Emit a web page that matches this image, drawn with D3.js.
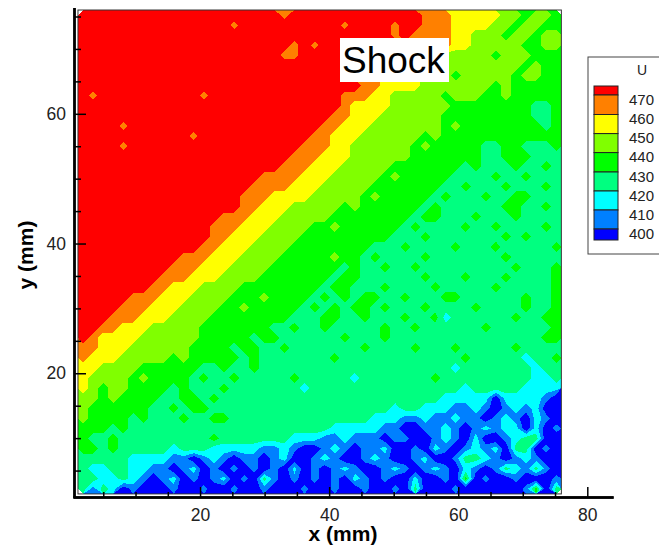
<!DOCTYPE html>
<html>
<head>
<meta charset="utf-8">
<script src="https://d3js.org/d3.v7.min.js"></script>
<style>
  body { margin: 0; background: #fff; }
  text { font-family: "Liberation Sans", Arial, sans-serif; }
</style>
</head>
<body>
<div id="chart"></div>
<script>
// contour levels and legend
const levels = [470, 460, 450, 440, 430, 420, 410, 400];
const bandColors = ["#ff0000", "#ff8000", "#ffff00", "#80ff00", "#00ff00", "#00ff80", "#00ffff", "#0080ff", "#0000ff"];
const xTicks = [20, 40, 60, 80];
const yTicks = [20, 40, 60];
const minorTicksX = [5, 10, 15, 25, 30, 35, 45, 50, 55, 65, 70, 75];
const minorTicksY = [5, 10, 15, 25, 30, 35, 45, 50, 55, 65, 70, 75];

// U, 48 x 48 cells, top row first
const uRows = [
[478,478,478,478,478,478,478,478, 478,478,478,478,478,478,478,478, 478,478,478,478,465,478,478,478, 478,478,478,478,478,478,478,478, 478,478,465,465,465,455,455,455, 455,455,445,445,435,445,445,435],
[478,478,478,478,478,478,478,478, 478,478,478,478,478,478,478,465, 478,478,478,478,478,478,478,478, 478,478,465,478,478,478,478,465, 478,478,465,465,465,455,455,455, 455,445,445,435,445,445,435,435],
[478,478,478,478,478,478,478,478, 478,478,478,478,478,478,478,478, 478,478,478,478,478,478,478,478, 478,478,478,478,478,478,478,465, 478,465,465,465,465,455,455,445, 445,445,435,445,445,435,445,445],
[478,478,478,478,478,478,478,478, 478,478,478,478,478,478,478,478, 478,478,478,478,478,465,478,465, 478,478,478,478,478,478,478,478, 465,465,465,465,465,455,455,445, 445,445,445,445,435,435,445,445],
[478,478,478,478,478,478,478,478, 478,478,478,478,478,478,478,478, 478,478,478,478,465,465,478,478, 478,478,478,478,478,478,478,478, 465,465,465,465,445,445,445,445, 445,435,445,445,445,435,435,435],
[478,478,478,478,478,478,478,478, 478,478,478,478,478,478,478,478, 478,478,478,478,478,478,478,478, 478,478,478,478,465,465,465,465, 455,455,445,445,445,445,445,445, 445,445,445,445,435,445,435,435],
[478,478,478,478,478,478,478,478, 478,478,478,478,478,478,478,478, 478,478,478,478,478,478,478,478, 478,478,478,465,465,465,455,455, 455,455,445,445,445,435,445,445, 445,445,445,435,445,445,435,435],
[478,478,478,478,478,478,478,478, 478,478,478,478,478,478,478,478, 478,478,478,478,478,478,478,478, 478,478,478,478,465,465,455,455, 455,455,445,445,445,445,445,445, 445,435,445,435,435,435,435,435],
[478,465,478,478,478,478,478,478, 478,478,478,478,465,478,478,478, 478,478,478,478,478,478,478,478, 478,478,465,465,465,455,455,445, 445,445,445,445,435,445,445,445, 435,435,445,435,435,435,435,435],
[478,478,478,478,478,478,478,478, 478,478,478,478,478,478,478,478, 478,478,478,478,478,478,478,478, 478,478,465,455,455,455,455,445, 445,445,445,445,445,435,435,435, 435,435,435,435,435,425,425,435],
[478,478,478,478,478,478,478,478, 478,478,478,478,478,478,478,478, 478,478,478,478,478,478,478,478, 478,465,465,455,455,455,445,445, 445,445,445,445,435,435,435,435, 435,435,435,435,435,425,425,435],
[478,478,478,478,465,478,478,478, 478,478,478,478,478,478,478,478, 478,478,478,478,478,478,478,478, 465,465,455,455,455,445,445,445, 445,445,445,445,435,445,435,435, 435,435,435,435,435,435,425,435],
[478,478,478,478,478,478,478,478, 478,478,478,465,478,478,478,478, 478,478,478,478,478,478,478,465, 465,455,455,455,445,445,445,445, 445,445,435,445,435,435,435,435, 435,435,435,435,435,435,435,435],
[478,478,478,478,465,478,478,478, 478,478,478,478,478,478,478,478, 478,478,478,478,478,478,465,465, 465,455,455,445,445,445,445,445, 445,435,445,435,435,435,435,435, 425,425,435,435,425,425,425,435],
[478,478,478,478,478,478,478,478, 478,478,478,478,478,478,478,478, 478,478,478,478,478,465,465,465, 455,455,455,445,445,445,445,445, 445,435,435,435,435,435,435,435, 425,425,435,435,435,425,425,425],
[478,478,478,478,478,478,478,478, 478,478,478,478,478,478,478,478, 478,478,478,478,465,465,465,455, 455,455,445,445,445,445,445,435, 435,435,435,435,435,435,425,435, 425,425,425,435,425,425,435,425],
[478,478,478,478,478,478,478,478, 478,478,478,478,478,478,478,478, 478,478,465,465,465,465,455,455, 455,445,445,445,445,445,435,445, 435,435,435,435,435,425,425,425, 425,435,425,425,435,425,425,425],
[478,478,478,478,478,478,478,478, 478,478,478,478,478,478,478,478, 478,465,465,465,465,455,455,455, 445,445,445,445,445,435,435,435, 435,435,435,435,425,425,435,425, 425,425,435,425,425,425,435,425],
[478,478,478,478,478,478,478,478, 478,478,478,478,478,478,478,478, 465,465,465,455,455,455,455,445, 445,445,445,445,435,445,435,435, 435,435,435,425,435,425,425,425, 435,425,425,435,435,425,425,425],
[478,478,478,478,478,478,478,478, 478,478,478,478,478,478,478,478, 465,465,455,455,455,445,445,445, 445,445,435,445,435,435,435,435, 435,435,425,435,425,425,425,425, 425,425,435,435,425,425,435,425],
[478,478,478,478,478,478,478,478, 478,478,478,478,478,478,465,465, 465,455,455,455,445,445,445,445, 445,435,435,435,435,435,435,435, 435,425,435,435,425,425,425,435, 425,425,425,435,425,425,425,425],
[478,478,478,478,478,478,478,478, 478,478,478,478,478,465,465,465, 455,455,455,445,445,445,445,435, 435,445,435,435,435,435,435,435, 425,435,425,425,425,425,435,425, 425,435,425,425,425,425,435,425],
[478,478,478,478,478,478,478,478, 478,478,478,478,478,465,465,455, 455,455,445,445,445,445,435,435, 435,435,435,435,435,435,435,425, 425,425,435,425,425,425,425,425, 425,425,435,425,435,425,425,425],
[478,478,478,478,478,478,478,478, 478,478,478,478,465,465,455,455, 455,445,445,445,445,435,435,435, 435,435,435,435,435,425,425,425, 435,425,425,425,425,435,425,425, 425,435,425,425,425,425,425,435],
[478,478,478,478,478,478,478,478, 478,478,465,465,465,455,455,455, 445,445,445,445,435,435,435,435, 435,445,435,435,425,435,425,425, 425,425,435,425,425,425,425,425, 425,425,435,425,425,425,425,425],
[478,478,478,478,478,478,478,478, 478,465,465,465,455,455,455,445, 445,445,445,435,435,435,435,435, 435,435,425,435,425,425,435,425, 425,435,425,425,425,425,425,425, 425,425,425,435,425,425,425,435],
[478,478,478,478,478,478,478,478, 465,465,465,455,455,455,445,445, 445,445,435,435,435,435,435,435, 435,425,435,435,425,425,425,425, 425,425,435,425,425,425,435,425, 425,425,435,425,425,425,425,435],
[478,478,478,478,478,478,478,465, 465,455,455,455,445,445,445,445, 435,435,435,435,435,435,435,435, 425,435,435,425,425,425,435,425, 425,425,425,435,425,425,425,425, 425,435,425,425,425,425,425,435],
[478,478,478,478,478,465,465,465, 455,455,455,445,445,445,445,435, 435,435,445,435,435,435,435,425, 435,425,435,425,435,435,425,425, 435,425,425,425,435,435,425,425, 425,425,425,425,435,425,425,435],
[478,478,478,478,465,465,465,455, 455,455,445,445,445,445,435,435, 445,435,435,435,435,435,425,435, 425,435,425,435,435,425,435,425, 425,425,435,425,425,425,425,435, 425,425,425,425,435,425,425,435],
[478,478,478,465,465,465,455,455, 455,445,445,445,445,435,435,435, 435,435,435,435,435,425,425,425, 435,435,425,425,435,425,425,425, 435,425,425,435,415,425,425,425, 425,425,425,435,425,425,435,435],
[478,478,465,465,455,455,455,445, 445,445,445,445,435,435,435,435, 435,435,435,425,425,435,425,425, 435,425,425,425,425,425,435,425, 425,435,425,425,425,425,425,425, 435,425,425,425,425,425,425,435],
[478,465,455,455,455,455,445,445, 445,445,445,445,435,435,435,435, 435,425,435,435,425,425,425,425, 425,425,435,425,425,425,435,425, 425,425,425,425,425,425,425,425, 425,425,425,425,425,425,435,435],
[465,465,455,455,455,445,445,445, 445,445,445,435,435,435,435,425, 435,435,425,425,435,425,425,425, 425,425,425,425,435,425,425,425, 425,435,425,425,425,435,425,425, 425,425,425,435,425,425,425,425],
[465,455,455,455,445,445,445,445, 445,435,445,435,435,435,435,435, 425,435,425,425,425,425,425,425, 425,435,425,425,425,425,425,425, 425,425,425,425,425,425,435,425, 425,425,425,425,415,425,425,435],
[455,455,445,445,445,445,435,435, 435,435,435,435,425,425,435,425, 425,435,425,425,425,425,425,425, 425,425,425,425,425,425,425,425, 425,425,425,425,425,415,425,425, 425,425,425,425,425,415,425,425],
[455,445,445,445,445,435,445,435, 435,435,435,425,435,425,425,435, 425,425,425,425,425,435,425,425, 425,425,425,415,425,425,425,425, 425,425,425,435,425,425,425,425, 425,425,425,425,425,415,415,425],
[455,445,435,445,445,435,435,435, 435,425,435,425,425,425,435,425, 425,425,425,425,425,425,415,425, 425,425,425,425,425,425,425,425, 425,425,425,425,425,425,415,425, 425,425,425,425,415,415,415,415],
[445,445,435,445,435,435,435,435, 425,425,435,435,425,435,425,425, 425,425,425,425,425,425,425,425, 425,425,425,425,425,425,425,425, 425,425,425,425,415,415,415,415, 415,392,415,415,415,415,405,392],
[445,435,435,435,435,435,435,425, 425,435,425,435,435,425,425,425, 425,425,425,425,425,425,425,425, 425,425,425,425,425,425,425,415, 425,425,415,415,415,405,405,415, 405,392,405,415,405,415,392,392],
[445,435,435,435,435,425,435,425, 425,425,435,425,425,435,435,425, 425,425,425,425,425,425,425,425, 425,425,425,425,425,415,415,415, 405,405,415,405,405,415,405,405, 392,405,415,405,392,415,405,392],
[435,435,435,425,435,425,425,425, 425,425,425,425,425,425,425,425, 425,425,425,425,425,425,425,425, 425,415,415,415,415,415,405,405, 392,392,405,405,415,405,392,405, 415,405,415,415,392,415,392,405],
[435,425,425,435,425,425,425,425, 425,425,425,425,425,435,425,425, 425,425,425,425,425,415,415,415, 405,405,415,405,405,405,392,405, 405,392,392,405,415,405,392,415, 392,392,405,415,425,425,392,392],
[435,435,425,435,425,425,425,425, 425,415,425,425,425,415,415,415, 415,415,405,405,415,405,392,392, 405,415,405,392,405,405,415,392, 392,405,392,415,405,392,405,415, 405,415,392,425,425,392,405,392],
[425,425,425,425,425,415,415,415, 415,405,405,392,405,415,405,392, 405,405,392,405,415,392,392,405, 415,405,392,392,405,415,405,392, 392,405,415,392,392,405,425,425, 415,405,392,405,415,405,392,392],
[425,415,415,425,425,415,415,405, 405,392,405,415,392,405,392,405, 392,405,392,405,392,415,392,405, 392,405,415,405,392,392,405,415, 405,392,405,415,405,392,415,405, 392,405,425,415,405,425,405,392],
[425,425,415,415,425,415,405,392, 405,415,392,405,392,405,415,392, 405,392,425,405,392,405,392,405, 392,405,392,415,405,392,405,392, 392,415,392,392,405,392,435,392, 405,392,392,405,392,392,392,405],
[425,405,425,415,392,405,392,392, 392,405,392,392,405,392,392,405, 392,392,405,392,392,392,405,392, 392,405,392,392,405,392,392,405, 392,425,392,392,392,405,392,392, 392,392,392,392,405,435,392,425]
];

// pixel scales
const x = d3.scaleLinear().domain([0, 80]).range([71, 587.3]);
const y = d3.scaleLinear().domain([0, 75]).range([503, 16.5]);

const nRows = uRows.length;
const nCols = uRows[0].length;
const values = uRows.flat();

// the grid covers this part of the axes
const gridX = d3.scaleLinear().domain([0, nCols]).range([x(1.08), x(75.98)]);
const gridY = d3.scaleLinear().domain([0, nRows]).range([y(76.0), y(1.4)]);

const svg = d3.select("#chart")
    .append("svg")
    .attr("width", 659)
    .attr("height", 553);

// filled contours, lowest band first, each painted over the last
const bandFloors = [0].concat(levels.slice().reverse());
const contours = d3.contours()
    .size([nCols, nRows])
    .thresholds(bandFloors)(values);

const path = d3.geoPath(d3.geoTransform({
    point: function(px, py) { this.stream.point(gridX(px), gridY(py)); }
}));

svg.append("g")
    .selectAll("path")
    .data(contours)
    .enter()
    .append("path")
    .attr("d", path)
    .attr("fill", (d, i) => bandColors[bandColors.length - 1 - i])
    .attr("shape-rendering", "crispEdges");

// frame round the contour area
svg.append("rect")
    .attr("x", x(1.08))
    .attr("y", y(76.0))
    .attr("width", x(75.98) - x(1.08))
    .attr("height", y(1.4) - y(76.0))
    .attr("fill", "none")
    .attr("stroke", "#333")
    .attr("stroke-width", 1);

// X axis, ticks point up into the plot
const axisX = d3.scaleLinear().domain([0.3, 84]).range([x(0.3), x(84)]);
const gx = svg.append("g")
    .attr("transform", "translate(0,497)")
    .call(d3.axisBottom(axisX).tickValues(xTicks).tickSize(-10).tickSizeOuter(0).tickPadding(12));
svg.append("g")
    .attr("transform", "translate(0,497)")
    .call(d3.axisBottom(axisX).tickValues(minorTicksX).tickSize(-5).tickSizeOuter(0).tickFormat(""));

// Y axis, ticks point right into the plot
const axisY = d3.scaleLinear().domain([0.9, 76.4]).range([y(0.9), y(76.4)]);
const gy = svg.append("g")
    .attr("transform", "translate(74,0)")
    .call(d3.axisLeft(axisY).tickValues(yTicks).tickSize(-12).tickSizeOuter(0).tickPadding(8));
svg.append("g")
    .attr("transform", "translate(74,0)")
    .call(d3.axisLeft(axisY).tickValues(minorTicksY).tickSize(-7).tickSizeOuter(0).tickFormat(""));

svg.selectAll(".domain").attr("stroke", "#000").attr("stroke-width", 2.4);
svg.selectAll(".tick line").attr("stroke", "#000").attr("stroke-width", 1.5);
svg.selectAll(".tick text")
    .attr("font-family", null)
    .style("font-size", "17.5px")
    .style("fill", "#222");

// axis titles
svg.append("text")
    .text("x (mm)")
    .attr("x", 343)
    .attr("y", 541)
    .attr("text-anchor", "middle")
    .attr("font-weight", "bold")
    .attr("font-size", 21);

svg.append("text")
    .text("y (mm)")
    .attr("transform", "translate(33,255) rotate(-90)")
    .attr("text-anchor", "middle")
    .attr("font-weight", "bold")
    .attr("font-size", 21);

// Shock label
svg.append("rect")
    .attr("x", 340)
    .attr("y", 38)
    .attr("width", 109)
    .attr("height", 44)
    .attr("fill", "#fff");
svg.append("text")
    .text("Shock")
    .attr("x", 342)
    .attr("y", 73)
    .attr("font-size", 37)
    .attr("fill", "#000");

// legend
const legendStops = [86, 95, 114.5, 133.6, 152.6, 172, 191, 210, 229, 240];
const legend = svg.append("g");
legend.append("rect")
    .attr("x", 588)
    .attr("y", 57)
    .attr("width", 90)
    .attr("height", 197)
    .attr("fill", "#fff")
    .attr("stroke", "#444")
    .attr("stroke-width", 1);
legend.append("text")
    .text("U")
    .attr("x", 642)
    .attr("y", 75)
    .attr("text-anchor", "middle")
    .attr("font-size", 14)
    .attr("fill", "#222");
legend.selectAll(".swatch")
    .data(bandColors)
    .enter()
    .append("rect")
    .attr("class", "swatch")
    .attr("x", 594)
    .attr("y", (d, i) => legendStops[i])
    .attr("width", 24)
    .attr("height", (d, i) => legendStops[i + 1] - legendStops[i])
    .attr("fill", d => d)
    .attr("stroke", "#222")
    .attr("stroke-width", 1);
legend.selectAll(".level")
    .data(levels)
    .enter()
    .append("text")
    .attr("class", "level")
    .text(d => d)
    .attr("x", 629)
    .attr("y", (d, i) => legendStops[i + 1] + 9.5)
    .attr("font-size", 15)
    .attr("fill", "#222");
</script>
</body>
</html>
